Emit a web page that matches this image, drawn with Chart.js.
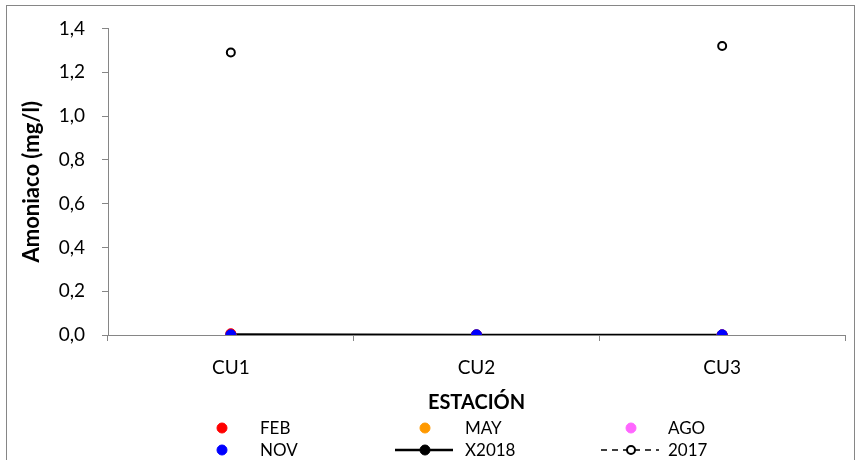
<!DOCTYPE html>
<html>
<head>
<meta charset="utf-8">
<script src="https://cdn.jsdelivr.net/npm/chart.js@4/dist/chart.umd.min.js"></script>
<style>
  html, body { margin: 0; padding: 0; background: #fff; }
  #wrap { width: 859px; height: 460px; }
</style>
</head>
<body>
<div id="wrap"><canvas id="amoniacoChart" width="859" height="460"></canvas></div>
<script>
// Datos
var estaciones = ['CU1', 'CU2', 'CU3'];
var feb = [0.006, 0.0, 0.0];
var may = [0.0, 0.0, 0.0];
var ago = [0.0, 0.0, 0.001];
var nov = [0.001, 0.001, 0.001];
var x2018 = [0.002, 0.0005, 0.0005];
var y2017 = [1.29, null, 1.32];
var yTicks = [0, 0.2, 0.4, 0.6, 0.8, 1.0, 1.2, 1.4];

var fuente = "Lato, 'Open Sans', sans-serif";
Chart.defaults.font.family = fuente;
Chart.defaults.color = '#000';

var gris = '#868686';

// leyenda en 3 columnas, dibujada a mano
var leyendaPlugin = {
    id: 'leyenda',
    beforeDraw: function (chart) {
        var ctx = chart.ctx;
        ctx.save();
        ctx.strokeStyle = gris;
        ctx.lineWidth = 1;
        ctx.strokeRect(6.5, 5.5, 848, 470);
        ctx.restore();
    },
    afterDraw: function (chart) {
        var ctx = chart.ctx;
        var cols = [{m: 222, t: 260}, {m: 425, t: 465}, {m: 631, t: 668}];
        var rows = [428, 450];
        var ds = chart.data.datasets;
        ctx.save();
        ctx.font = '17px ' + fuente;
        ctx.textBaseline = 'middle';
        ctx.textAlign = 'left';
        for (var i = 0; i < ds.length; i++) {
            var c = cols[i % 3];
            var y = rows[Math.floor(i / 3)];
            var d = ds[i];
            if (d.legendLine) {
                ctx.beginPath();
                ctx.strokeStyle = d.borderColor;
                ctx.lineWidth = d.borderWidth;
                ctx.setLineDash(d.borderDash || []);
                ctx.moveTo(c.m - 30, y);
                ctx.lineTo(c.m + 28, y);
                ctx.stroke();
                ctx.setLineDash([]);
            }
            ctx.beginPath();
            ctx.arc(c.m, y, d.pointRadius, 0, Math.PI * 2);
            ctx.fillStyle = d.pointBackgroundColor;
            ctx.fill();
            ctx.lineWidth = d.pointBorderWidth;
            ctx.strokeStyle = d.pointBorderColor;
            ctx.stroke();
            ctx.fillStyle = '#000';
            ctx.fillText(d.label, c.t, y + 1);
        }
        ctx.restore();
    }
};

function serie(label, data, color, order) {
    return {
        label: label,
        data: data,
        showLine: false,
        borderColor: color,
        backgroundColor: color,
        pointBackgroundColor: color,
        pointBorderColor: color,
        pointBorderWidth: 1,
        pointRadius: 5,
        order: order
    };
}

var datasets = [
    serie('FEB', feb, '#FF0000', 2),
    serie('MAY', may, '#FF9900', 3),
    serie('AGO', ago, '#FF66FF', 4),
    serie('NOV', nov, '#0000FF', 1),
    {
        label: 'X2018',
        data: x2018,
        showLine: true,
        legendLine: true,
        borderColor: '#000',
        borderWidth: 2.5,
        pointBackgroundColor: '#000',
        pointBorderColor: '#000',
        pointBorderWidth: 1,
        pointRadius: 5,
        order: 6
    },
    {
        label: '2017',
        data: y2017,
        showLine: false,
        legendLine: true,
        borderColor: '#000',
        borderWidth: 1.6,
        borderDash: [6, 5],
        pointBackgroundColor: '#fff',
        pointBorderColor: '#000',
        pointBorderWidth: 2,
        pointRadius: 4,
        order: 0
    }
];

var ctx = document.getElementById('amoniacoChart');
var chart = new Chart(ctx, {
    type: 'line',
    data: { labels: estaciones, datasets: datasets },
    plugins: [leyendaPlugin],
    options: {
        responsive: false,
        animation: false,
        layout: { padding: { left: 10, right: 14, top: 28, bottom: 45 } },
        plugins: { legend: { display: false }, tooltip: { enabled: false } },
        scales: {
            x: {
                offset: true,
                grid: { display: true, offset: true, drawOnChartArea: false, tickLength: 6, color: gris },
                border: { color: gris, width: 1 },
                ticks: { padding: 15, font: { size: 19 } },
                title: { display: true, text: 'ESTACIÓN', font: { size: 20, weight: 'bold' }, padding: 0 },
                afterFit: function (s) { s.height = 80; }
            },
            y: {
                min: 0,
                max: 1.4,
                afterBuildTicks: function (s) {
                    s.ticks = yTicks.map(function (v) { return { value: v }; });
                },
                grid: { display: true, drawOnChartArea: false, tickLength: 6, color: gris },
                border: { color: gris, width: 1 },
                ticks: {
                    padding: 17,
                    font: { size: 19 },
                    callback: function (v) { return v.toFixed(1).replace('.', ','); }
                },
                title: { display: true, text: 'Amoniaco (mg/l)', font: { size: 22, weight: 'bold' }, padding: { top: 9, bottom: 0 } },
                afterFit: function (s) { s.width = 98; }
            }
        }
    }
});
</script>
</body>
</html>
